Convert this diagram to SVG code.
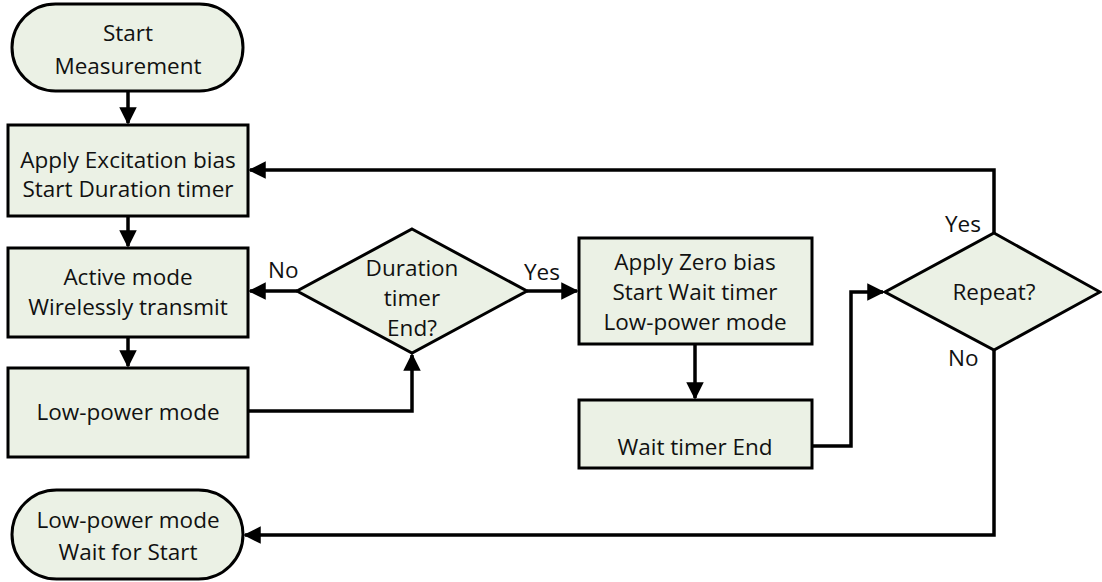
<svg xmlns="http://www.w3.org/2000/svg" width="1102" height="582" viewBox="0 0 1102 582">
<style>
.n{fill:#ebf1e5;stroke:#000;stroke-width:3}
.t{font-family:"Open Sans","Liberation Sans",sans-serif;font-size:22.5px;fill:#111;text-anchor:middle}
.l{font-family:"Open Sans","Liberation Sans",sans-serif;font-size:22.5px;fill:#111}
.c{fill:none;stroke:#000;stroke-width:3.5}
</style>
<defs>
<marker id="a" markerWidth="5" markerHeight="5" refX="4.5" refY="2.5" orient="auto" markerUnits="strokeWidth">
<path d="M0,0 L5,2.5 L0,5 z" fill="#000"/>
</marker>
</defs>
<rect width="1102" height="582" fill="#fff"/>
<g id="connectors">
<path class="c" d="M128,91 V123" marker-end="url(#a)"/>
<path class="c" d="M128,216 V246" marker-end="url(#a)"/>
<path class="c" d="M128,337 V366" marker-end="url(#a)"/>
<path class="c" d="M297,291 H250" marker-end="url(#a)"/>
<path class="c" d="M527,291 H577" marker-end="url(#a)"/>
<path class="c" d="M248,411 H412 V355" marker-end="url(#a)"/>
<path class="c" d="M695,344 V398" marker-end="url(#a)"/>
<path class="c" d="M812,446 H851 V292 H883" marker-end="url(#a)"/>
<path class="c" d="M994,233 V170 H250" marker-end="url(#a)"/>
<path class="c" d="M994,350 V535 H245" marker-end="url(#a)"/>
</g>
<g id="start">
<rect class="n" x="12" y="4" width="231" height="87" rx="43.5"/>
<text class="t" x="128" y="41">Start</text>
<text class="t" x="128" y="74">Measurement</text>
</g>
<g id="excitation">
<rect class="n" x="8" y="125" width="240" height="91"/>
<text class="t" x="128" y="168">Apply Excitation bias</text>
<text class="t" x="128" y="197">Start Duration timer</text>
</g>
<g id="active">
<rect class="n" x="8" y="248" width="240" height="89"/>
<text class="t" x="128" y="285">Active mode</text>
<text class="t" x="128" y="315">Wirelessly transmit</text>
</g>
<g id="lowpower">
<rect class="n" x="8" y="368" width="240" height="89"/>
<text class="t" x="128" y="420">Low-power mode</text>
</g>
<g id="end">
<rect class="n" x="12" y="490" width="231" height="89" rx="44.5"/>
<text class="t" x="128" y="528">Low-power mode</text>
<text class="t" x="128" y="560">Wait for Start</text>
</g>
<g id="duration">
<polygon class="n" points="412,229 527,291 412,353 297,291"/>
<text class="t" x="412" y="276">Duration</text>
<text class="t" x="412" y="306">timer</text>
<text class="t" x="412" y="336">End?</text>
</g>
<g id="zero">
<rect class="n" x="579" y="238" width="233" height="106"/>
<text class="t" x="695" y="270">Apply Zero bias</text>
<text class="t" x="695" y="300">Start Wait timer</text>
<text class="t" x="695" y="330">Low-power mode</text>
</g>
<g id="waitend">
<rect class="n" x="579" y="400" width="233" height="68"/>
<text class="t" x="695" y="455">Wait timer End</text>
</g>
<g id="repeat">
<polygon class="n" points="994,233 1100,292 994,350 885,292"/>
<text class="t" x="994" y="300">Repeat?</text>
</g>
<g id="labels">
<text class="l" x="268" y="278">No</text>
<text class="l" x="524" y="280">Yes</text>
<text class="l" x="945" y="232">Yes</text>
<text class="l" x="948" y="366">No</text>
</g>
</svg>
